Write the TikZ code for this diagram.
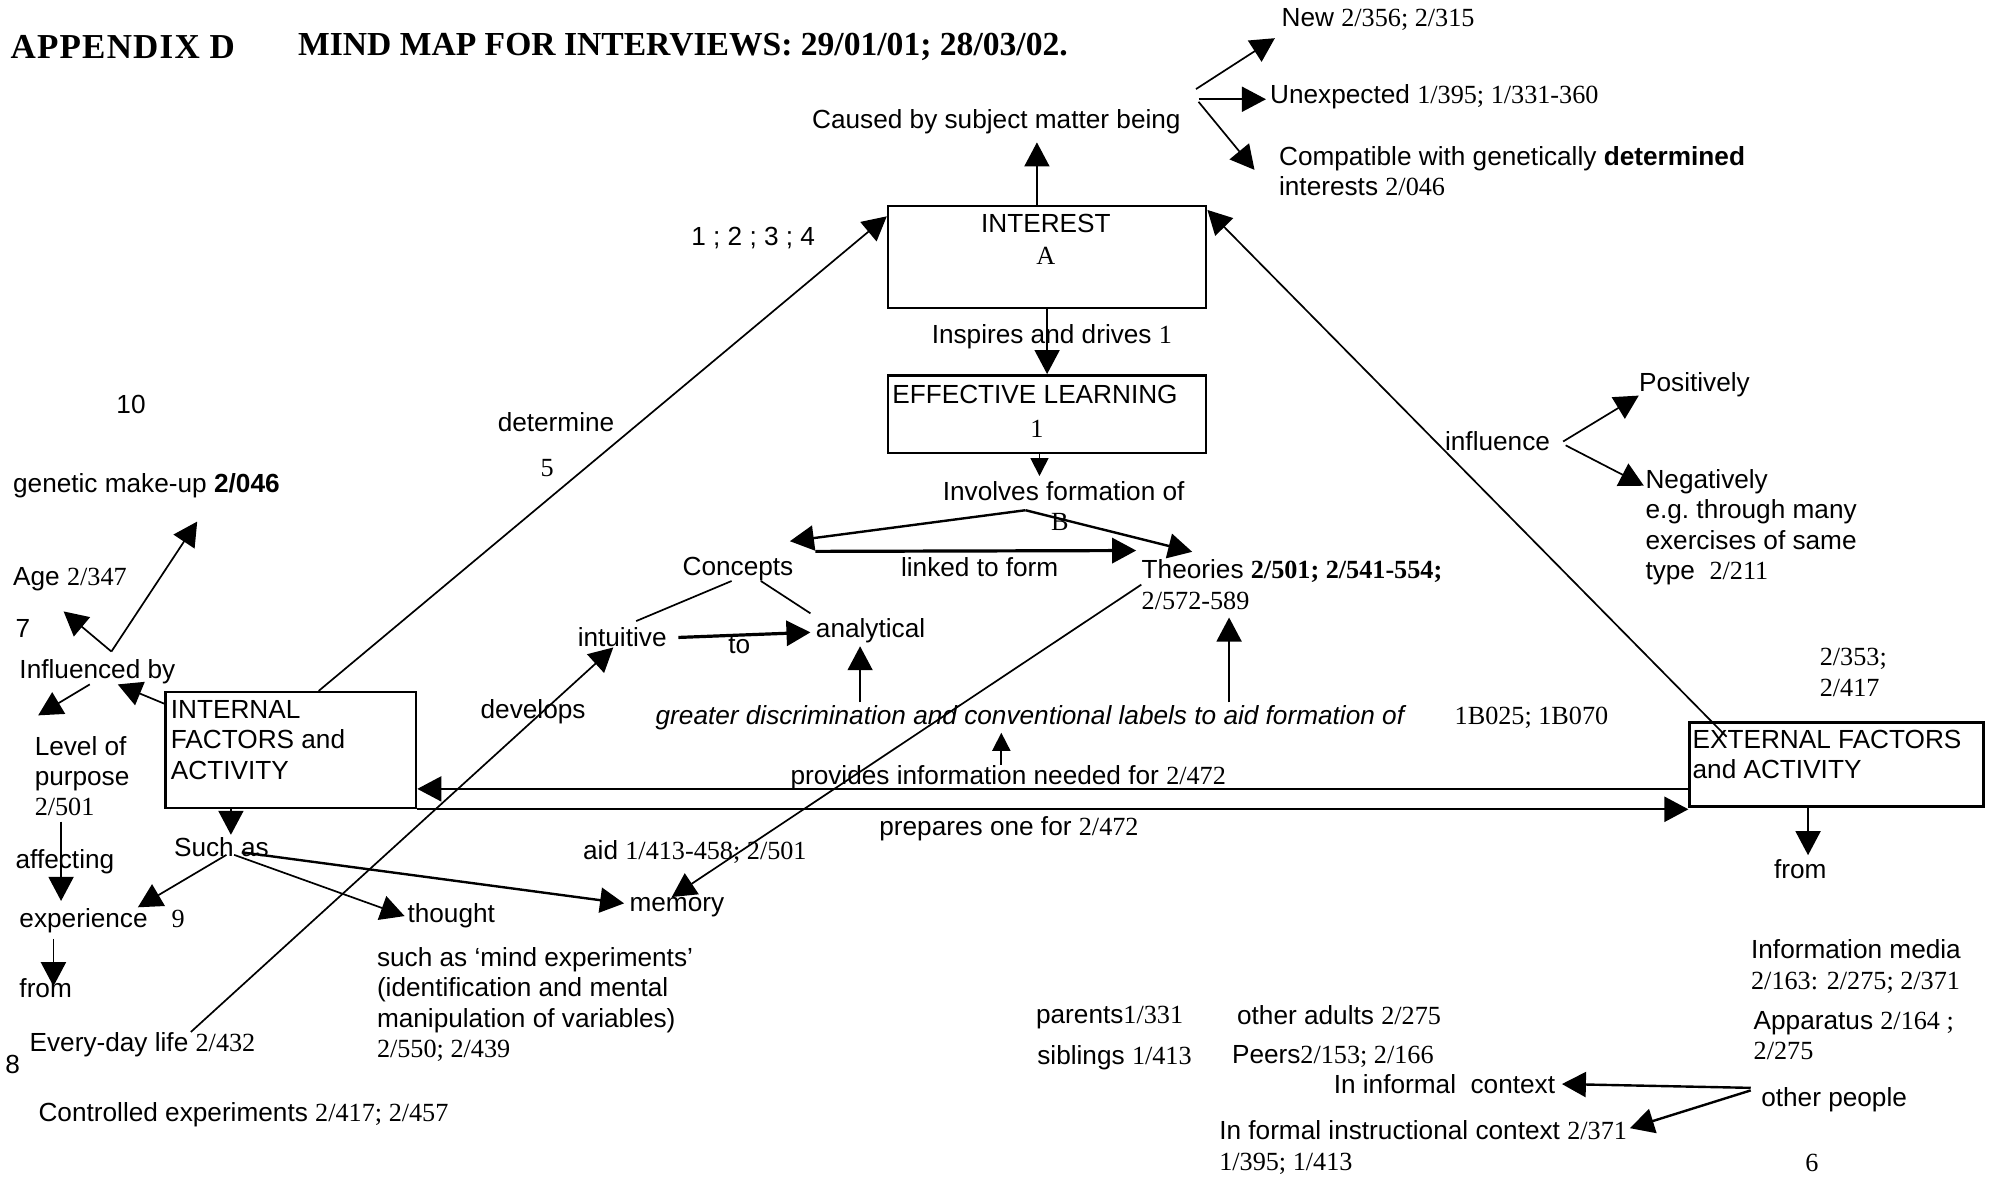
\documentclass[tikz,border=0pt]{standalone}
\usepackage{fontspec}
\setmainfont{Liberation Sans}
\newfontfamily\tms{Liberation Serif}
\usetikzlibrary{positioning,arrows.meta,calc}
\newcommand{\mainsize}{\fontsize{13.1}{15.2}\selectfont}
\newcommand{\rf}[1]{{\tms #1}}

\begin{document}
\begin{tikzpicture}[
    x=0.6362pt, y=-0.6362pt,
    font=\mainsize,
    line/.style={-{Triangle[length=12pt,width=12.5pt]}, line width=0.85pt},
    boldline/.style={-{Triangle[length=12pt,width=12.5pt]}, line width=1.6pt},
    smallline/.style={-{Triangle[length=9pt,width=9pt]}, line width=0.85pt},
    thinline/.style={line width=0.85pt},
    box/.style={draw, line width=1.3pt, inner sep=0pt, anchor=north west},
    txt/.style={inner sep=0pt, anchor=west, align=left},
    lbl/.style={inner sep=0pt},
    num/.style={inner sep=0pt, font=\mainsize\tms},
    ttl/.style={inner sep=0pt, anchor=west, font=\fontsize{17.5}{20}\selectfont\tms\bfseries}
]
\useasboundingbox (0,0) rectangle (1568,925);

% Title
\node[ttl] (appx) at (8,37) {A\kern.6pt P\kern.6pt P\kern.6pt E\kern.6pt N\kern.6pt D\kern.6pt I\kern.6pt X\kern.6pt\ D};
\node[ttl, font=\fontsize{16.8}{20}\selectfont\tms\bfseries] (ttlmap) at (234,37) {MIND MAP FOR INTERVIEWS: 29/01/01; 28/03/02.};

% Interest and what causes it
\node[box, minimum width=159pt, minimum height=50.9pt] (interest) at (697,161) {};
\node[lbl] (interestname) at (822,176) {INTEREST};
\node[num] (interestA) at (822,201) {A};
\node[txt] (caused) at (638,96) {Caused by subject matter being};
\node[txt] (new) at (1007,15) {New \rf{2/356; 2/315}};
\node[txt] (unexp) at (998,76) {Unexpected \rf{1/395; 1/331-360}};
\node[txt] (compat) at (1005,134.5) {Compatible with genetically \textbf{determined}\\interests \rf{2/046}};
\node[txt] (nums) at (543,187) {1 ; 2 ; 3 ; 4};

\draw[line] ($(interest.north)+(-8,0)$) -- ($(interest.north |- caused.south)+(-8,6)$);
\coordinate (cbfork) at (940,70);
\draw[line] (cbfork) -- ($(new.west)+(-5,15)$);
\draw[line] ($(cbfork)+(2,8)$) -- ($(unexp.west)+(-3,2)$);
\draw[line] ($(cbfork)+(2,10)$) -- ($(compat.west)+(-19,-1)$);

% Effective learning
\node[box, minimum width=159pt, minimum height=38.8pt] (effective) at (697,294) {};
\node[txt] (effectivename) at (701,310) {EFFECTIVE LEARNING};
\node[num] (effectiveone) at (815,337) {1};
\node[txt] (inspires) at (732,265) {Inspires and drives \rf{1}};
\draw[line] (interest.south) -- (effective.north);

\node[lbl] (involves) at (836,386) {Involves formation of};
\draw[smallline] ($(effective.south)+(-6,0)$) -- ($(effective.south |- involves.north)+(-6,-4)$);

% Concepts and theories
\coordinate (bfork) at (806,401);
\node[num] (bmark) at (833,410) {B};
\node[lbl] (concepts) at (580,447) {Concepts};
\node[txt] (theories) at (897,459.5) {Theories \rf{\textbf{2/501; 2/541-554;}}\\\rf{2/572-589}};
\draw[line, line width=1.2pt] (bfork) -- ($(concepts.north east)+(-3,-12)$);
\draw[line, line width=1.2pt] (bfork) -- ($(theories.north west)+(40,-6)$);
\draw[boldline] ($(concepts.north east)+(17,-4)$) -- ($(theories.north west)+(-4,-7)$);
\node[lbl] (linked) at (770,446) {linked to form};

\node[lbl] (intuitive) at (489,501) {intuitive};
\node[txt] (analytical) at (641,496) {analytical};
\draw[thinline] ($(concepts.south)+(-5,0)$) -- ($(intuitive.north)+(11,-5)$);
\draw[thinline] ($(concepts.south)+(18,0)$) -- ($(analytical.north west)+(-4,-4)$);
\draw[boldline] ($(intuitive.east)+(9,0)$) -- ($(analytical.west)+(-4,1)$);
\node[lbl] (to) at (581,507) {to};

\node[txt] (greater) at (515,564) {\textit{greater discrimination and conventional labels to aid formation of}};
\node[num, anchor=west] (refb) at (1143,564) {1B025; 1B070};
\coordinate (gA) at ($(greater.north west)+(161,-2)$);
\coordinate (gB) at ($(greater.north west)+(451,-2)$);
\draw[line] (gA) -- ($(gA |- analytical.south)+(0,2)$);
\draw[line] (gB) -- ($(gB |- theories.south)+(0,6)$);

\node[txt] (provides) at (621,611) {provides information needed for \rf{2/472}};
\coordinate (pA) at ($(provides.north west)+(166,0)$);
\draw[smallline] (pA) -- ($(pA |- greater.south)+(0,2)$);

% Internal and external factors
\node[box, minimum width=125.3pt, minimum height=57.9pt] (internal) at (129,543) {};
\node[txt] (internalname) at (134,581.5) {INTERNAL\\FACTORS and\\ACTIVITY};
\node[box, minimum width=147pt, minimum height=42pt] (external) at (1327,567) {};
\node[txt] (externalname) at (1330,593) {EXTERNAL FACTORS\\and ACTIVITY};

\coordinate (pv) at ($(external.west)+(0,19)$);
\draw[line] (pv) -- (pv -| internal.east);
\draw[line, line width=1.2pt] (internal.south east) -- (internal.south east -| external.west);
\node[lbl] (prepares) at (793,651) {prepares one for \rf{2/472}};

\draw[line] ($(internal.north)+(22,0)$) -- ($(interest.north west)+(0,9)$);
\node[lbl] (determine) at (437,332) {determine};
\node[num] (five) at (430,368) {5};
\draw[line] ($(external.north west)+(30,12)$) -- ($(interest.north east)+(0,4)$);

% Memory and thought
\node[lbl] (memory) at (532,713) {memory};
\node[txt] (aid) at (458,670) {aid \rf{1/413-458; 2/501}};
\draw[line] (theories.west) -- ($(memory.north)+(-4,0)$);

\node[lbl] (suchas) at (174,666) {Such as};
\coordinate (sA) at ($(internal.south)+(-47,0)$);
\draw[line] (sA) -- ($(sA |- suchas.north)+(0,-2)$);
\node[txt] (experience) at (15,724) {experience};
\node[num] (nine) at (140,722) {9};
\node[txt] (thought) at (320,720) {thought};
\node[txt] (mind) at (296,789.5) {such as `mind experiments'\\(identification and mental\\manipulation of variables)\\\rf{2/550; 2/439}};
\draw[line] ($(suchas.south)+(4,-2)$) -- ($(experience.north east)+(-8,-1)$);
\draw[line] ($(suchas.south)+(10,-2)$) -- ($(thought.west)+(-2,0)$);
\draw[line, line width=1.2pt] ($(suchas.south)+(16,-4)$) -- ($(memory.west)+(-4,-3)$);

% Left column
\node[lbl] (ten) at (103,318) {10};
\node[txt] (genetic) at (10,382) {genetic make-up \textbf{2/046}};
\node[txt] (age) at (10,455) {Age \rf{2/347}};
\node[lbl] (seven) at (18,494) {7};
\node[txt] (influenced) at (15,528) {Influenced by};
\coordinate (iA) at ($(influenced.north)+(11,-6)$);
\draw[line] (iA) -- ($(age.south west)+(40,16)$);
\draw[line] (iA) -- ($(genetic.south west)+(145,18)$);
\draw[line] ($(internal.north west)+(0,10)$) -- ($(influenced.south)+(16,0)$);

\node[txt] (level) at (27,610) {Level of\\purpose\\\rf{2/501}};
\draw[line] ($(influenced.south)+(-6,0)$) -- ($(level.north west)+(3,-16)$);
\coordinate (lA) at ($(level.south west)+(21,4)$);
\draw[line] (lA) -- ($(lA |- experience.north)+(0,-6)$);
\node[txt] (affecting) at (12,677) {affecting};

\node[txt] (fromL) at (15,777) {from};
\coordinate (eA) at ($(experience.south west)+(27,4)$);
\draw[line] (eA) -- ($(eA |- fromL.north)+(0,6)$);
\node[lbl] (eight) at (10,837) {8};
\node[txt] (everyday) at (23,821) {Every-day life \rf{2/432}};
\node[txt] (controlled) at (30,876) {Controlled experiments \rf{2/417; 2/457}};
\draw[line] ($(everyday.north west)+(127,0)$) -- ($(intuitive.south)+(-7,0)$);
\node[lbl] (develops) at (419,559) {develops};

% Right column
\node[lbl] (influence) at (1177,347) {influence};
\node[txt] (positively) at (1288,302) {Positively};
\node[txt] (negatively) at (1293,414.5) {Negatively\\e.g.\ through many\\exercises of same\\type\ \ \rf{2/211}};
\draw[line] ($(influence.east)+(10,0)$) -- ($(positively.south west)+(0,-1)$);
\draw[line] ($(influence.east)+(12,3)$) -- ($(negatively.north west)+(-1,13)$);

\node[num, anchor=west, align=left] (r353) at (1430,528.5) {2/353;\\2/417};
\node[lbl] (fromR) at (1415,683) {from};
\coordinate (xA) at ($(external.south)+(-22.5,0)$);
\draw[line] (xA) -- ($(xA |- fromR.north)+(0,-3)$);

\node[txt] (media) at (1376,759.5) {Information media\\\rf{2/163: 2/275; 2/371}};
\node[txt] (apparatus) at (1378,814) {Apparatus \rf{2/164 ;}\\\rf{2/275}};
\node[txt] (otherpeople) at (1384,864) {other people};
\node[txt] (informal) at (1048,852) {In informal\ \ context};
\node[txt] (formal) at (958,902) {In formal instructional context \rf{2/371}\\\rf{1/395; 1/413}};
\draw[line, line width=1.2pt] ($(otherpeople.west)+(-8,-9)$) -- ($(informal.east)+(5,0)$);
\draw[line, line width=1.2pt] ($(otherpeople.west)+(-8,-7)$) -- ($(formal.north east)+(2,6)$);
\node[num] (six) at (1424,914) {6};

\node[txt] (parents) at (814,800) {parents\rf{1/331}};
\node[txt] (adults) at (972,798) {other adults \rf{2/275}};
\node[txt] (siblings) at (815,831) {siblings \rf{1/413}};
\node[txt] (peers) at (968,830) {Peers\rf{2/153; 2/166}};

\end{tikzpicture}
\end{document}
